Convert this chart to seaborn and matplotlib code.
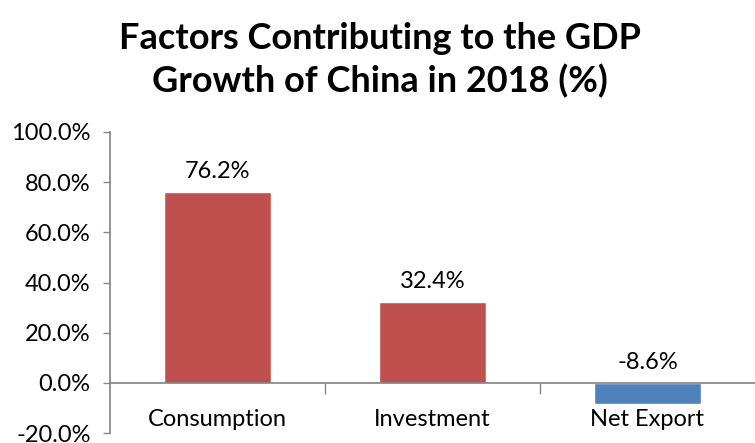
import matplotlib
matplotlib.use("Agg")
import matplotlib.pyplot as plt
import seaborn as sns
import pandas as pd
from matplotlib.ticker import FixedLocator, FuncFormatter

categories = ["Consumption", "Investment", "Net Export"]
values = [76.2, 32.4, -8.6]
yticks = [-20, 0, 20, 40, 60, 80, 100]

sns.set_theme(style="white")
plt.rcParams['font.family'] = ['Lato', 'DejaVu Sans']

df = pd.DataFrame({"category": categories, "value": values})
colors = ["#C0504D" if v >= 0 else "#4F81BD" for v in values]

fig = plt.figure(figsize=(7.55, 4.43), dpi=100)
ax = fig.add_axes([110/755, 1 - 433/443, 645/755, (433 - 132)/443])

sns.barplot(data=df, x="category", y="value", hue="category", palette=colors,
            legend=False, width=0.5, ax=ax, saturation=1, zorder=1)

ax.set_ylim(-20, 100)
ax.set_xlim(-0.5, 2.5)
ax.set_yticks(yticks)
ax.yaxis.set_major_formatter(FuncFormatter(lambda v, p: f"{v:.1f}%"))
ax.tick_params(axis='y', labelsize=17, labelcolor='#000000', length=5, width=1,
               direction='out', left=True, pad=9, color='#868686')

ax.spines['top'].set_visible(False)
ax.spines['right'].set_visible(False)
ax.spines['left'].set_color('#868686')
ax.spines['bottom'].set_color('#868686')
ax.spines['bottom'].set_position(('data', 0))
ax.spines['bottom'].set_zorder(3)

ax.set_xlabel("")
ax.set_ylabel("")
ax.tick_params(axis='x', which='major', length=0, labelsize=17, pad=19,
               labelcolor='#000000')
ax.xaxis.set_minor_locator(FixedLocator([0.5, 1.5]))
ax.tick_params(axis='x', which='minor', length=8, width=1, color='#868686',
               direction='out', bottom=True)

for i, v in enumerate(values):
    if v >= 0:
        ax.text(i, v + 4, f"{v:.1f}%", ha='center', va='bottom', fontsize=17, color='#000000')
    else:
        ax.text(i, 4, f"{v:.1f}%", ha='center', va='bottom', fontsize=17, color='#000000')

fig.text(0.503, 0.95, "Factors Contributing to the GDP\nGrowth of China in 2018 (%)",
         ha='center', va='top', fontsize=26, fontweight='bold', linespacing=1.3,
         color='#000000')

fig.savefig("out.png", dpi=100)
